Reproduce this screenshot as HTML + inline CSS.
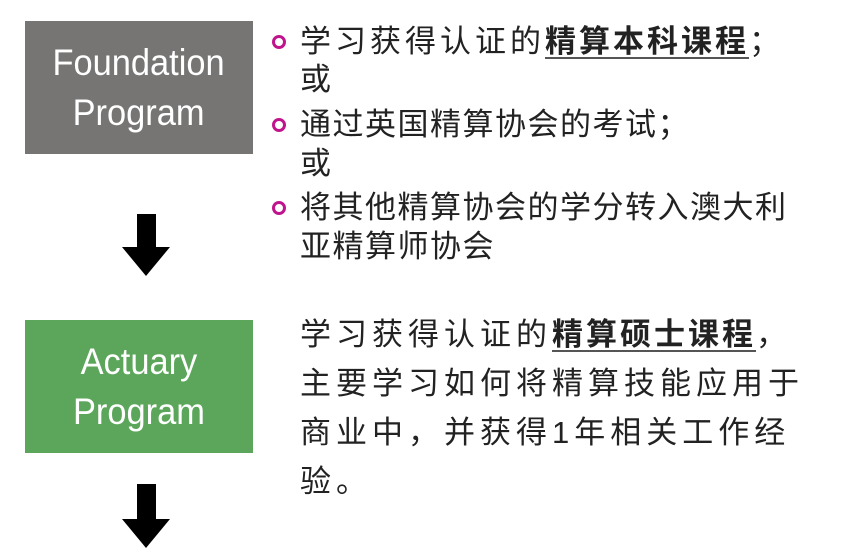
<!DOCTYPE html>
<html><head><meta charset="utf-8"><style>
body{margin:0;width:842px;height:554px;background:#fff;position:relative;overflow:hidden;font-family:"Liberation Sans","Noto Sans CJK SC",sans-serif;}
.box{position:absolute;left:25px;width:228px;height:133px;color:#fff;font-family:"Liberation Sans",sans-serif;font-size:37px;line-height:50px;text-align:center;display:flex;align-items:center;justify-content:center;}
.box span{display:inline-block;transform:scaleX(0.93)}
.t{position:absolute;left:300px;font-size:31px;color:#222;letter-spacing:1.5px;white-space:nowrap;line-height:40px}
.t2{letter-spacing:5px}
.t b{text-decoration:underline;text-decoration-thickness:2px;text-underline-offset:5px;text-decoration-color:#555}
.dot{position:absolute;left:272px;width:8px;height:8px;border:3.5px solid #c0148c;border-radius:50%}
</style></head><body>
<div class="box" style="top:21px;background:#767574"><span>Foundation<br>Program</span></div>
<div class="box" style="top:320px;background:#5ba65a"><span>Actuary<br>Program</span></div>
<svg style="position:absolute;left:0;top:0" width="842" height="554">
<polygon points="137,214 156,214 156,247 170,247 146,276 122,247 137,247" fill="#000"/>
<polygon points="137,484 156,484 156,519 170,519 146,548 122,519 137,519" fill="#000"/>
</svg>
<div class="dot" style="top:35px"></div>
<div class="dot" style="top:118px"></div>
<div class="dot" style="top:201px"></div>
<div class="t" style="top:22px;letter-spacing:4px">学习获得认证的<b style="letter-spacing:3px">精算本科课程</b>；</div>
<div class="t" style="top:60px">或</div>
<div class="t" style="top:105px">通过英国精算协会的考试；</div>
<div class="t" style="top:144px">或</div>
<div class="t" style="top:188px">将其他精算协会的学分转入澳大利</div>
<div class="t" style="top:227px">亚精算师协会</div>
<div class="t t2" style="top:315px">学习获得认证的<b style="letter-spacing:3px">精算硕士课程</b>，</div>
<div class="t t2" style="top:364px">主要学习如何将精算技能应用于</div>
<div class="t t2" style="top:413px">商业中，并获得1年相关工作经</div>
<div class="t t2" style="top:462px">验。</div>
</body></html>
